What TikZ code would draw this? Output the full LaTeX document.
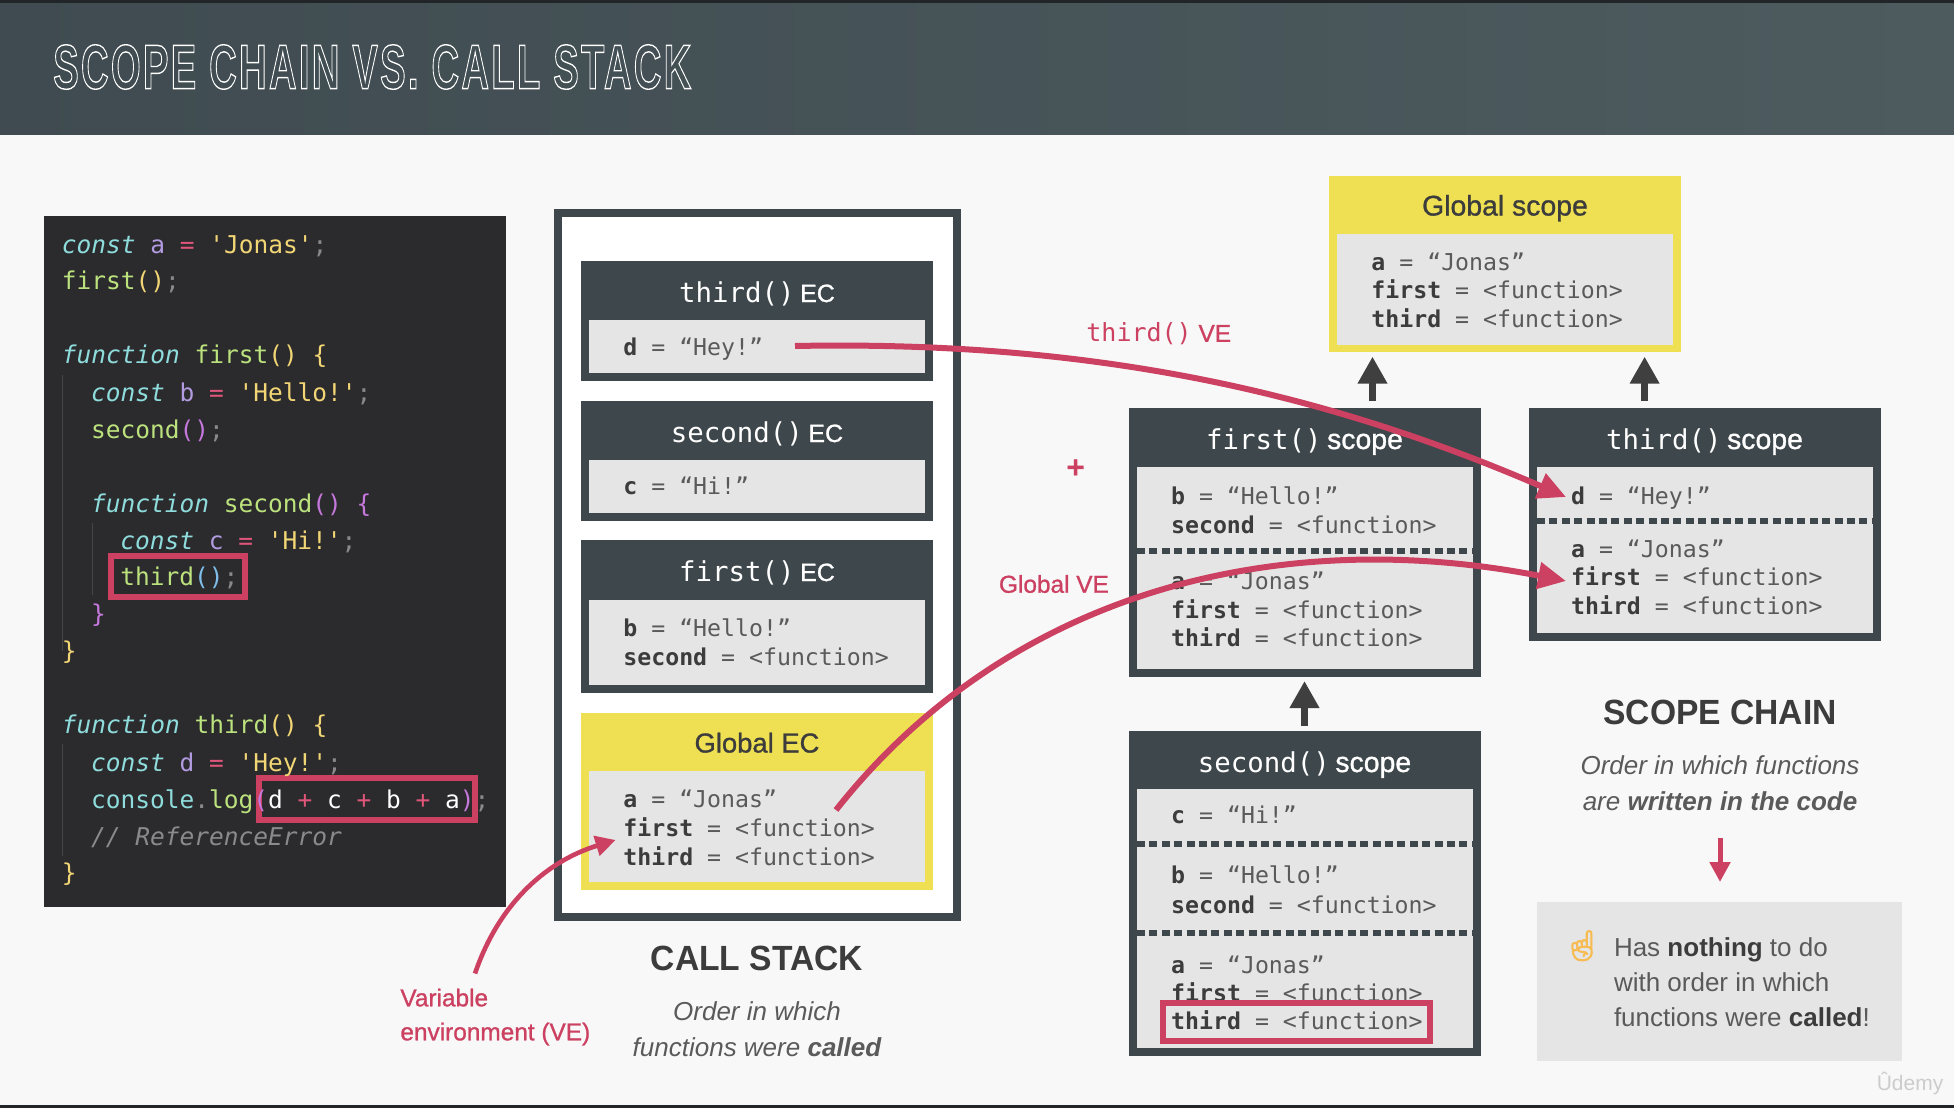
\documentclass[tikz,border=0pt]{standalone}
\usepackage{fontspec}
\setmainfont{Liberation Sans}
\setmonofont{DejaVu Sans Mono}
\newfontfamily\medfont[FakeBold=1]{Liberation Sans}
\newfontfamily\headfont[LetterSpace=6]{Liberation Sans}
\newfontfamily\emojifont[FakeBold=3]{Noto Emoji}
\usetikzlibrary{arrows.meta,positioning}

\definecolor{pagebg}{HTML}{F8F8F8}
\definecolor{headleft}{HTML}{3F4B50}
\definecolor{headright}{HTML}{4D5B5F}
\definecolor{strip}{HTML}{222528}
\definecolor{panel}{HTML}{2B2B2D}
\definecolor{boxdark}{HTML}{3E474B}
\definecolor{boxinner}{HTML}{E5E5E5}
\definecolor{boxyellow}{HTML}{EEE052}
\definecolor{accent}{HTML}{CC4161}
\definecolor{inktext}{HTML}{3C3C3C}
\definecolor{valtext}{HTML}{5A5A5A}
\definecolor{blockgray}{HTML}{3F3F3F}
\definecolor{cyanc}{HTML}{8FDCDC}
\definecolor{purplec}{HTML}{B29BE0}
\definecolor{pinkc}{HTML}{E0557A}
\definecolor{yellowc}{HTML}{F2D675}
\definecolor{greenc}{HTML}{BCE27E}
\definecolor{violetc}{HTML}{C678DD}
\definecolor{bluec}{HTML}{7FBFEA}
\definecolor{dimc}{HTML}{8A8A8A}
\definecolor{guidec}{HTML}{454547}

\newcommand\ckw[1]{\textcolor{cyanc}{\itshape #1}}
\newcommand\cvr[1]{\textcolor{purplec}{#1}}
\newcommand\cop[1]{\textcolor{pinkc}{#1}}
\newcommand\cst[1]{\textcolor{yellowc}{#1}}
\newcommand\cfn[1]{\textcolor{greenc}{#1}}
\newcommand\cdm[1]{\textcolor{dimc}{#1}}
\newcommand\bk[1]{{\bfseries\color{inktext}#1}}
\newcommand\fnval[1]{\bk{#1} = <function>}
\newcommand\titlemono{\ttfamily\fontsize{13.7}{16}\selectfont}
\newcommand\titlesans{\medfont\fontsize{14.2}{16}\selectfont}
\newcommand\ecsans{\medfont\fontsize{12.5}{16}\selectfont}

\tikzset{
	plainbox/.style={rectangle,inner sep=0pt,outer sep=0pt,minimum width=#1},
	darkbox/.style={plainbox=176pt,fill=boxdark},
	yellowbox/.style={plainbox=176pt,fill=boxyellow},
	innerbox/.style={plainbox=168pt,fill=boxinner},
	redframe/.style={rectangle,draw=accent,line width=3pt,inner sep=0pt,outer sep=0pt},
	codeline/.style={anchor=west,inner sep=0pt,text height=10.5pt,text depth=2pt,text=white,font=\ttfamily\fontsize{12.25}{14}\selectfont},
	valline/.style={anchor=west,inner sep=0pt,text height=10pt,text depth=2pt,text=valtext,font=\ttfamily\fontsize{11.6}{14}\selectfont},
	whitetitle/.style={inner sep=0pt,text=white,text height=12pt,text depth=3pt},
	yellowtitle/.style={inner sep=0pt,text=inktext,text height=11.5pt,text depth=3pt},
	bighead/.style={inner sep=0pt,text=inktext,xscale=0.96,font=\bfseries\fontsize{17.5}{20}\selectfont},
	subhead/.style={inner sep=0pt,text=valtext,align=center,font=\itshape\fontsize{13}{18}\selectfont},
	redlabel/.style={inner sep=0pt,text=accent,font=\medfont\fontsize{12.2}{17}\selectfont},
	sepline/.style={draw=boxdark,line width=2.8pt,dash pattern=on 4pt off 2.2pt},
	guide/.style={draw=guidec,line width=0.5pt},
	blockarrow/.style={draw=blockgray,line width=3.5pt,-{Triangle[length=13.5pt,width=14pt]}},
	redcurve/.style={draw=accent,line width=3pt,-{Triangle[length=14pt,width=13pt]}}
}

\begin{document}
\begin{tikzpicture}[x=0.5pt,y=-0.5pt]
	\useasboundingbox (0,0) rectangle (1954,1108);
	\fill[pagebg] (0,0) rectangle (1954,1108);
	\fill[strip] (0,0) rectangle (1954,3);
	\fill[strip] (0,1105) rectangle (1954,1108);
	\shade[left color=headleft,right color=headright] (0,3) rectangle (1954,134.6);

	% header
	\node[anchor=west,inner sep=0pt,text=white,xscale=0.607,font=\headfont\bfseries\fontsize{31.5}{36}\selectfont] (title) at (53,67)
		{\special{pdf:code 1 Tr 0.7 w}SCOPE CHAIN VS. CALL STACK\special{pdf:code 0 Tr}};

	% code panel
	\node[plainbox=231pt,minimum height=345.5pt,fill=panel] (codepanel) at (275,561.5) {};
	\path[guide] (62.5,375) -- (62.5,651);
	\path[guide] (92.5,523) -- (92.5,595);
	\path[guide] (62.5,744) -- (62.5,856);
	\node[redframe,minimum width=67.25pt,minimum height=20.5pt] (framethird) at (177.75,576.5) {};
	\node[redframe,minimum width=108.2pt,minimum height=21pt] (framelog) at (366.8,799) {};

	\node[codeline] (l1) at (61.5,244.6) {\ckw{const} \cvr{a} \cop{=} \cst{'Jonas'}\cdm{;}};
	\node[codeline] (l2) at (61.5,281.4) {\cfn{first}\cst{()}\cdm{;}};
	\node[codeline] (l3) at (61.5,355) {\ckw{function} \cfn{first}\cst{() \{}};
	\node[codeline] (l4) at (90.7,393) {\ckw{const} \cvr{b} \cop{=} \cst{'Hello!'}\cdm{;}};
	\node[codeline] (l5) at (90.7,430) {\cfn{second}\textcolor{violetc}{()}\cdm{;}};
	\node[codeline] (l6) at (90.7,503.6) {\ckw{function} \cfn{second}\textcolor{violetc}{() \{}};
	\node[codeline] (l7) at (119.9,541) {\ckw{const} \cvr{c} \cop{=} \cst{'Hi!'}\cdm{;}};
	\node[codeline] (l8) at (119.9,576.7) {\cfn{third}\textcolor{bluec}{()}\cdm{;}};
	\node[codeline] (l9) at (90.7,614) {\textcolor{violetc}{\}}};
	\node[codeline] (l10) at (61.5,651.4) {\cst{\}}};
	\node[codeline] (l11) at (61.5,725.4) {\ckw{function} \cfn{third}\cst{() \{}};
	\node[codeline] (l12) at (90.7,762.5) {\ckw{const} \cvr{d} \cop{=} \cst{'Hey!'}\cdm{;}};
	\node[codeline] (l13) at (90.7,800) {\textcolor{cyanc}{console}\cdm{.}\cfn{log}\textcolor{violetc}{(}d \cop{+} c \cop{+} b \cop{+} a\textcolor{violetc}{)}\cdm{;}};
	\node[codeline] (l14) at (90.7,837) {\textcolor{dimc}{\itshape // ReferenceError}};
	\node[codeline] (l15) at (61.5,873) {\cst{\}}};

	% call stack
	\node[rectangle,draw=boxdark,fill=white,line width=4pt,inner sep=0pt,outer sep=0pt,minimum width=199.5pt,minimum height=352pt] (stack) at (757.5,565) {};

	\node[darkbox,minimum height=60pt] (ecthird) at (757,321) {};
	\node[innerbox,minimum height=26.5pt] (ecthirdbody) at (757,346.5) {};
	\node[whitetitle] (ecthirdtitle) at (757,293) {{\titlemono third()}\ {\ecsans EC}};
	\node[valline] (ecd) at (623,347) {\bk{d} = “Hey!”};

	\node[darkbox,minimum height=60pt] (ecsecond) at (757,461) {};
	\node[innerbox,minimum height=26.5pt] (ecsecondbody) at (757,486.5) {};
	\node[whitetitle] (ecsecondtitle) at (757,433) {{\titlemono second()}\ {\ecsans EC}};
	\node[valline] (ecc) at (623,486) {\bk{c} = “Hi!”};

	\node[darkbox,minimum height=76.5pt] (ecfirst) at (757,616.5) {};
	\node[innerbox,minimum height=42.75pt] (ecfirstbody) at (757,642.25) {};
	\node[whitetitle] (ecfirsttitle) at (757,572) {{\titlemono first()}\ {\ecsans EC}};
	\node[valline] (ecb) at (623,628) {\bk{b} = “Hello!”};
	\node[valline] (ecsec) at (623,657.5) {\fnval{second}};

	\node[yellowbox,minimum height=88.5pt] (ecglobal) at (757,801.5) {};
	\node[innerbox,minimum height=55.5pt] (ecglobalbody) at (757,826.5) {};
	\node[yellowtitle,font=\medfont\fontsize{13.7}{16}\selectfont] (ecglobaltitle) at (757,744) {Global EC};
	\node[valline] (eca) at (623,799) {\bk{a} = “Jonas”};
	\node[valline] (ecfir) at (623,828) {\fnval{first}};
	\node[valline] (ecthi) at (623,857) {\fnval{third}};

	\node[bighead] (stackhead) at (757,958) {CALL STACK};
	\node[subhead] (stacksub) at (757,1029) {Order in which\\functions were \textbf{called}};
	\node[redlabel,anchor=west,align=left] (velabel) at (400,1017) {Variable\\environment (VE)};

	% scopes
	\node[yellowbox,minimum height=88.25pt] (globalscope) at (1505,263.75) {};
	\node[innerbox,minimum height=55.3pt] (globalbody) at (1505,289.3) {};
	\node[yellowtitle,font=\titlesans] (globaltitle) at (1505,207) {Global scope};
	\node[valline] (ga) at (1371,262) {\bk{a} = “Jonas”};
	\node[valline] (gf) at (1371,290) {\fnval{first}};
	\node[valline] (gt) at (1371,319) {\fnval{third}};

	\node[darkbox,minimum height=134.5pt] (firstscope) at (1304.5,542.5) {};
	\node[innerbox,minimum height=101.25pt] (firstbody) at (1304.5,567.75) {};
	\node[whitetitle] (firsttitle) at (1304.5,440) {{\titlemono first()}\ {\titlesans scope}};
	\node[valline] (fb) at (1170.7,496) {\bk{b} = “Hello!”};
	\node[valline] (fs) at (1170.7,525) {\fnval{second}};
	\path[sepline] (1137,551) -- (1472,551);
	\node[valline] (fa) at (1170.7,581.5) {\bk{a} = “Jonas”};
	\node[valline] (ff) at (1170.7,610) {\fnval{first}};
	\node[valline] (ft) at (1170.7,638) {\fnval{third}};

	\node[darkbox,minimum height=116.5pt] (thirdscope) at (1704.5,524.5) {};
	\node[innerbox,minimum height=83.25pt] (thirdbody) at (1704.5,549.75) {};
	\node[whitetitle] (thirdtitle) at (1704.5,440) {{\titlemono third()}\ {\titlesans scope}};
	\node[valline] (td) at (1570.7,496) {\bk{d} = “Hey!”};
	\path[sepline] (1537,521) -- (1872,521);
	\node[valline] (ta) at (1570.7,549.5) {\bk{a} = “Jonas”};
	\node[valline] (tf) at (1570.7,577.7) {\fnval{first}};
	\node[valline] (tt) at (1570.7,606.6) {\fnval{third}};

	\node[darkbox,minimum height=162.5pt] (secondscope) at (1304.5,893.5) {};
	\node[innerbox,minimum height=129.5pt] (secondbody) at (1304.5,918.5) {};
	\node[whitetitle] (secondtitle) at (1304.5,763) {{\titlemono second()}\ {\titlesans scope}};
	\node[valline] (sc) at (1170.8,815.7) {\bk{c} = “Hi!”};
	\path[sepline] (1137,844) -- (1472,844);
	\node[valline] (sb) at (1170.8,875.7) {\bk{b} = “Hello!”};
	\node[valline] (ss) at (1170.8,905) {\fnval{second}};
	\path[sepline] (1137,933) -- (1472,933);
	\node[valline] (sa) at (1170.8,965) {\bk{a} = “Jonas”};
	\node[valline] (sf) at (1170.8,993) {\fnval{first}};
	\node[redframe,fill=boxinner,minimum width=133.5pt,minimum height=19pt] (framescope) at (1296.5,1022) {};
	\node[valline] (st) at (1170.8,1021.7) {\fnval{third}};

	\node[bighead] (chainhead) at (1720,712) {SCOPE CHAIN};
	\node[subhead] (chainsub) at (1720,783) {Order in which functions\\are \textbf{written in the code}};
	\node[plainbox=182.5pt,minimum height=79.5pt,fill=boxinner] (note) at (1719.5,981.5) {};
	\node[inner sep=0pt,text=yellowc!70!orange,font=\emojifont\fontsize{15}{18}\selectfont] (notehand) at (1582,945.7) {☝};
	\node[anchor=west,inner sep=0pt,text=valtext,align=left,font=\fontsize{13}{17.5}\selectfont] (notetext) at (1613.6,982.5)
		{Has \textbf{\textcolor{inktext}{nothing}} to do\\with order in which\\functions were \textbf{\textcolor{inktext}{called}}!};
	\node[inner sep=0pt,text=black!20,font=\fontsize{10.5}{12}\selectfont] (logo) at (1910,1083) {Ûdemy};

	% arrows
	\coordinate (firstup) at (1372.5,401);
	\coordinate (globalin1) at (1372.5,356.6);
	\coordinate (thirdup) at (1644.6,401);
	\coordinate (globalin2) at (1644.6,356.6);
	\path[blockarrow] (firstup) -- (globalin1);
	\path[blockarrow] (thirdup) -- (globalin2);
	\path[blockarrow,shorten <=2.5pt,shorten >=2pt] (secondscope.north) -- (firstscope.south);

	\coordinate (hintfrom) at (1720,838);
	\coordinate (hintto) at (1720,882);
	\path[draw=accent,line width=2.5pt,-{Triangle[length=10pt,width=10pt]}] (hintfrom) -- (hintto);

	\coordinate (thirdvefrom) at (795,346);
	\coordinate (thirdveto) at (1566,497);
	\coordinate (globalvefrom) at (836,810);
	\coordinate (globalveto) at (1566,581);
	\coordinate (labelfrom) at (475,973.5);
	\coordinate (labelto) at (615.6,840);
	\path[redcurve] (thirdvefrom) .. controls (1100,340) and (1330,395) .. (thirdveto);
	\path[redcurve] (globalvefrom) .. controls (1010,590) and (1280,525) .. (globalveto);
	\path[redcurve,line width=2.3pt,-{Triangle[length=10pt,width=10pt]}] (labelfrom) .. controls (500,900) and (550,860) .. (labelto);

	\node[redlabel,anchor=west] (thirdve) at (1086,334) {{\ttfamily\fontsize{12.5}{16}\selectfont third()}\ VE};
	\node[redlabel,anchor=west] (globalve) at (998.6,584) {Global VE};
	\node[inner sep=0pt,text=accent,font=\bfseries\fontsize{16}{18}\selectfont] (plus) at (1075.6,469) {+};
\end{tikzpicture}
\end{document}
